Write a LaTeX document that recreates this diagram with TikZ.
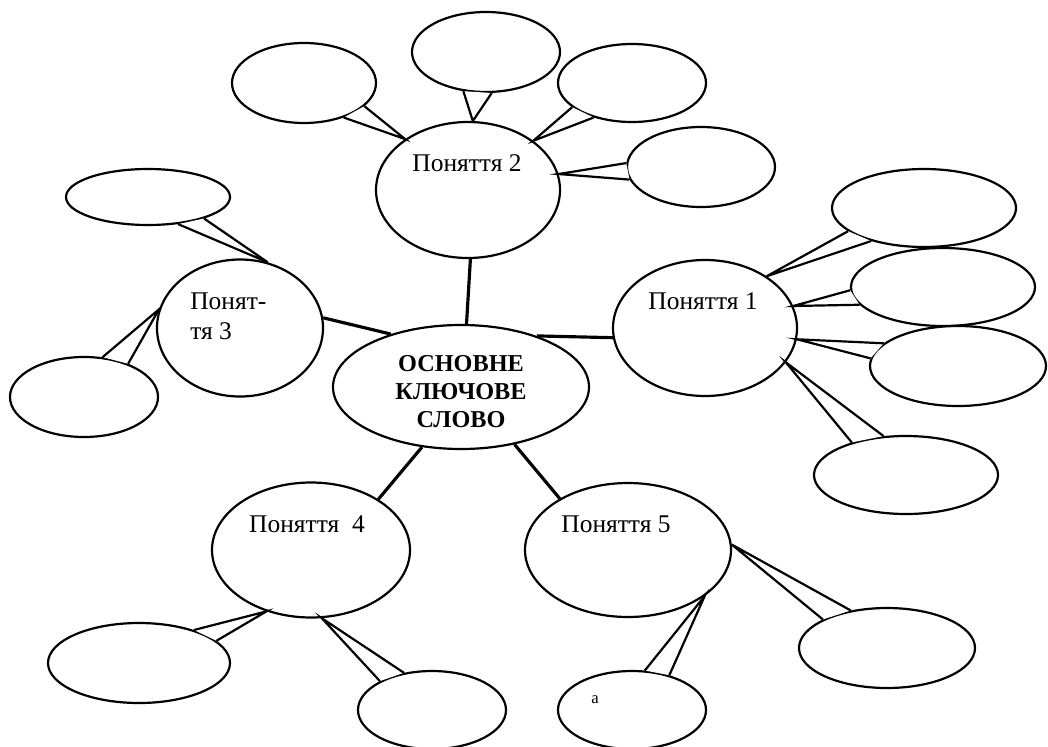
\documentclass[tikz,border=0pt]{standalone}
\usepackage{fontspec}
\setmainfont{Liberation Serif}
\usetikzlibrary{shapes.geometric}
\begin{document}
\begin{tikzpicture}[x=0.02cm,y=-0.02cm,
  ov/.style 2 args={ellipse, draw, fill=white, line width=1.25pt, inner sep=0pt, minimum width=#1*0.02cm, minimum height=#2*0.02cm},
  tail/.style={draw, fill=white, line width=1.25pt, line join=miter},
  link/.style={line width=1.8pt},
  lbl/.style={font=\fontsize{14.5}{17.6}\selectfont, inner sep=0pt},
]
\useasboundingbox (0,0) rectangle (1048,747);
% concept nodes
\node[ov={256}{124}] (c0) at (461,387) {};
\node[ov={184}{136}] (p2) at (468,190) {};
\node[ov={184}{136}] (p1) at (705,328) {};
\node[ov={166}{137}] (p3) at (240,328) {};
\node[ov={198}{135}] (p4) at (311,550) {};
\node[ov={206}{134}] (p5) at (628,550) {};
% main connectors
\draw[link] (c0.85) -- (p2.-88);
\draw[link] (c0.34) -- (p1.186);
\draw[link] (c0.143) -- (p3.7);
\draw[link] (c0.237) -- (p4.37);
\draw[link] (c0.313) -- (p5.143);
% texts
\node[lbl, anchor=base] (t2) at (467,171) {Поняття 2};
\node[lbl, anchor=base] (t1) at (703,309) {Поняття 1};
\node[lbl, anchor=north west, align=left] (t3) at (190,292) {Понят-\\тя 3};
\node[lbl, anchor=base] (t4) at (307,532) {Поняття\ \ 4};
\node[lbl, anchor=base] (t5) at (616,532) {Поняття 5};
\node[font=\fontsize{13.8}{15.9}\selectfont\bfseries, inner sep=0pt, align=center, anchor=north] (t0) at (461,355) {ОСНОВНЕ\\КЛЮЧОВЕ\\СЛОВО};
% callouts
\node[ov={144}{80}] (A) at (304,83) {};
\draw[tail] (A.-21) -- (p2.141) -- (A.-41);
\node[ov={148}{80}] (B) at (486,52) {};
\draw[tail] (B.240) -- (p2.86) -- (B.278);
\node[ov={148}{78}] (C) at (632,83) {};
\draw[tail] (C.202) -- (p2.37) -- (C.222);
\node[ov={148}{80}] (D) at (701,167) {};
\draw[tail] (D.177) -- (p2.10) -- (D.190);
\node[ov={184}{78}] (E) at (924,208) {};
\draw[tail] (E.197) -- (p1.40) -- (E.212);
\node[ov={184}{78}] (F) at (943,287) {};
\draw[tail] (F.182) -- (p1.14) -- (F.192);
\node[ov={176}{80}] (G) at (958,366) {};
\draw[tail] (G.163) -- (p1.-7) -- (G.175);
\node[ov={184}{78}] (H) at (906,475) {};
\draw[tail] (H.149) -- (p1.-23) -- (H.120);
\node[ov={164}{56}] (I) at (148,197) {};
\draw[tail] (I.-21) -- (p3.67) -- (I.-42);
\node[ov={148}{80}] (J) at (84,397) {};
\draw[tail] (J.65) -- (p3.167) -- (J.37);
\node[ov={182}{80}] (K) at (139,663) {};
\draw[tail] (K.31) -- (p4.234) -- (K.16);
\node[ov={148}{78}] (L) at (432,710) {};
\draw[tail] (L.151) -- (p4.279) -- (L.127);
\node[ov={148}{78}] (M) at (632,710) {};
\draw[tail] (M.72) -- (p5.-31) -- (M.43);
\node[ov={176}{80}] (N) at (887,648) {};
\draw[tail] (N.156) -- (p5.3) -- (N.134);
\node[font=\fontsize{9.5}{11}\selectfont, inner sep=0pt] (ta) at (595,700) {a};
\end{tikzpicture}
\end{document}
